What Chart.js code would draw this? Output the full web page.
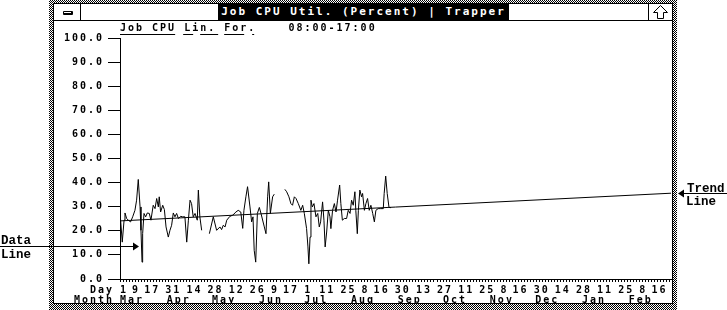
<!DOCTYPE html>
<html>
<head>
<meta charset="utf-8">
<title>Job CPU Util. (Percent) | Trapper</title>
<script src="https://cdn.jsdelivr.net/npm/chart.js@4.4.1/dist/chart.umd.min.js"></script>
<style>
  html, body { margin: 0; padding: 0; background: #fff; }
  body { width: 727px; height: 310px; position: relative; overflow: hidden; }
  /* window frame, Windows 3.x style */
  .hatch { position: absolute; left: 49px; top: 0; width: 628px; height: 320px;
    background: repeating-conic-gradient(#000 0 25%, #fff 0 50%) 0 0 / 2px 2px; }
  .win { position: absolute; left: 53px; top: 3px; width: 618px; height: 299px;
    border: 1px solid #000; background: #fff; }
  .bar { position: absolute; left: 0; top: 0; width: 618px; height: 16px; border-bottom: 1px solid #000; }
  .menu { position: absolute; left: 0; top: 0; width: 26px; height: 16px; border-right: 1px solid #000; }
  .menu i { position: absolute; left: 9px; top: 7px; width: 10px; height: 4px; background: #000; border-radius: 1px; }
  .menu i::after { content: ''; position: absolute; left: 1px; top: 1px; width: 7px; height: 1px; background: #fff; }
  .caption { position: absolute; left: 164px; top: 0; width: 291px; height: 16px; background: #000; color: #fff;
    font: bold 11px "DejaVu Sans Mono", monospace; letter-spacing: 2px; line-height: 16px; text-align: center; white-space: nowrap; }
  .maxbox { position: absolute; left: 594px; top: 0; width: 23px; height: 16px; border-left: 1px solid #000; }
  canvas { position: absolute; left: 0; top: 0; }
</style>
</head>
<body>
<div class="hatch"></div>
<div class="win">
  <div class="bar">
    <div class="menu"><i></i></div>
    <div class="caption">Job CPU Util. (Percent) | Trapper</div>
    <div class="maxbox">
      <svg width="23" height="16" viewBox="0 0 23 16">
        <path d="M11.5 1.5 L18.5 8.5 L14.5 8.5 L14.5 14.5 L8.5 14.5 L8.5 8.5 L4.5 8.5 Z" fill="#fff" stroke="#000" stroke-width="1"/>
      </svg>
    </div>
  </div>
</div>
<canvas id="grafica" width="727" height="310"></canvas>
<script>
// Datos: días desde el 1 de marzo y utilización de CPU (%), null = hueco
const dataDays = [
  0, 1.5, 2.7, 3.3, 4.4, 5.5, 7.0, 8.4, 9.9, 11.0, 12.1, 13.3, 13.9, 14.6, 15.0, 15.9, 17.0, 18.1, 19.4, 20.5,
  22.0, 23.2, 24.3, 25.4, 26.0, 26.9, 28.3, 29.4, 30.5, 32.0, 33.1, 34.2, 35.3, 36.4, 37.5, 38.7, 40.2, 41.5, 43.0, 44.2,
  45.3, 46.4, 47.4, 48.5, 49.7, 51.2, 51.9, 52.9, 54.1,
  56.5,
  59.2, 61.8, 64.0, 66.2, 67.3, 68.4, 69.6, 70.7, 72.8, 74.7, 76.8, 78.3, 80.0, 81.3, 82.1, 83.4, 84.5, 86.1, 87.2, 88.1,
  88.9, 89.9, 91.0, 92.3, 93.4, 95.6, 96.7, 97.8, 98.5, 99.6, 101.1, 102.2,
  105.5,
  109.2, 110.4, 111.9, 113.2, 114.3, 115.5, 116.6, 118.1, 119.8, 121.0, 122.1, 123.6, 124.5, 125.1, 125.9, 126.5, 127.4, 128.5, 129.8, 131.0,
  132.0, 132.9, 134.2, 135.1, 135.9, 136.9, 138.0, 139.1, 139.7, 140.8, 142.0, 143.1, 144.1, 145.5, 146.3, 147.3, 148.6, 150.1, 151.2, 152.4,
  153.4, 154.5, 155.6, 156.2, 157.2, 157.9, 158.9, 160.0, 160.7, 161.9, 162.9, 164.0, 165.1, 166.2, 167.4, 168.5, 169.5, 171.0, 172.7, 174.4,
  175.0, 176.0, 177.0, 178.2, 179.5
];
const cpuValues = [
  27.8, 15.3, 24.4, 27.4, 25.1, 24.4, 23.7, 25.8, 28.5, 32.7, 41.3, 29.9, 20.2, 7.0, 18.8, 27.2, 25.8, 27.4, 27.2, 24.4,
  30.6, 29.2, 33.4, 29.9, 34.1, 27.8, 30.6, 28.8, 21.6, 17.4, 20.2, 22.3, 27.4, 25.8, 27.2, 25.1, 26.0, 25.8, 25.8, 15.3,
  24.4, 32.7, 31.3, 25.8, 27.2, 24.4, 36.9, 25.8, 20.2,
  null,
  18.8, 25.8, 20.2, 21.6, 20.5, 22.3, 21.6, 24.4, 26.0, 26.5, 27.8, 28.5, 27.8, 21.0, 28.5, 34.1, 38.3, 29.9, 23.7, 25.8,
  11.9, 7.0, 27.2, 29.7, 27.2, 21.6, 18.8, 34.1, 40.3, 27.2, 34.1, 35.2,
  null,
  37.2, 36.2, 34.1, 31.3, 30.6, 34.1, 33.4, 31.3, 28.5, 30.6, 27.2, 20.9, 13.3, 6.3, 17.4, 32.7, 29.9, 31.3, 25.8, 27.2,
  21.6, 23.7, 32.0, 24.4, 13.3, 19.5, 28.5, 25.8, 20.9, 28.5, 31.3, 27.8, 32.7, 39.0, 31.3, 24.4, 25.1, 25.1, 28.5, 27.2,
  32.7, 30.6, 36.2, 28.5, 18.8, 28.5, 36.9, 34.1, 35.5, 28.5, 31.3, 33.4, 28.5, 30.6, 27.2, 23.7, 28.5, 29.2, 29.2, 29.2,
  35.5, 42.7, 35.5, 29.7, 29.6
];

// Línea de tendencia (pronóstico lineal)
const trendDays = [0, 365];
const trendValues = [24.1, 35.6];

// Etiquetas del eje X
const dayTickDays = [0, 8, 16, 30, 44, 58, 72, 86, 100, 108, 122, 132, 146, 160, 168, 182, 196, 210, 224, 238, 252, 260, 274, 288, 302, 316, 330, 344, 352];
const dayTickLabels = ['1', '9', '17', '31', '14', '28', '12', '26', '9', '17', '1', '11', '25', '8', '16', '30', '13', '27', '11', '25', '8', '16', '30', '14', '28', '11', '25', '8', '16'];
const monthDays = [0, 31, 61, 92, 122, 153, 184, 214, 245, 275, 306, 337];
const monthLabels = ['Mar', 'Apr', 'May', 'Jun', 'Jul', 'Aug', 'Sep', 'Oct', 'Nov', 'Dec', 'Jan', 'Feb'];

// Flechas de anotación
const dataArrow = { day: 12.5, value: 13.5 };

const FONT = '"DejaVu Sans Mono", monospace';
const SPACING = '2px';
const subtitle = 'Job CPU Lin. For.    08:00-17:00';

// Dibujar leyenda, rótulos y flechas encima del gráfico
const decor = {
  id: 'decor',
  beforeLayout(chart) { chart.ctx.letterSpacing = SPACING; },
  beforeDraw(chart) { chart.ctx.letterSpacing = SPACING; },
  afterDraw(chart) {
    const ctx = chart.ctx;
    const area = chart.chartArea;
    const xs = chart.scales.x, ys = chart.scales.y, ms = chart.scales.month;
    ctx.save();
    ctx.fillStyle = '#000';
    ctx.strokeStyle = '#000';
    ctx.lineWidth = 1;
    ctx.font = 'bold 10px ' + FONT;
    ctx.letterSpacing = SPACING;
    ctx.textBaseline = 'middle';
    ctx.textAlign = 'left';

    // leyenda
    const lx = area.left;
    ctx.fillText(subtitle, lx, 28);
    const w1 = ctx.measureText('Job CPU').width - 1;
    ctx.beginPath(); ctx.moveTo(lx, 34.5); ctx.lineTo(lx + w1, 34.5); ctx.stroke();
    const w2 = ctx.measureText('Job CPU ').width;
    ctx.setLineDash([10, 7, 18, 6, 20, 8, 2, 300]);
    ctx.beginPath(); ctx.moveTo(lx + w2 - 1, 34.5); ctx.lineTo(lx + w2 + 75, 34.5); ctx.stroke();
    ctx.setLineDash([]);

    // rótulos Day / Month
    ctx.textAlign = 'right';
    ctx.fillText('Day', area.left - 6, xs.top + 11.6);
    ctx.fillText('Month', area.left - 6, ms.top + 6.6);

    // flecha "Data Line"
    ctx.letterSpacing = '0px';
    ctx.font = 'bold 12.5px "Liberation Mono", monospace';
    ctx.textAlign = 'left';
    ctx.textBaseline = 'alphabetic';
    const px = Math.round(xs.getPixelForValue(dataArrow.day));
    const py = Math.round(ys.getPixelForValue(dataArrow.value)) + 0.5;
    ctx.beginPath(); ctx.moveTo(0, py); ctx.lineTo(px - 4, py); ctx.stroke();
    ctx.beginPath(); ctx.moveTo(px, py); ctx.lineTo(px - 6, py - 4); ctx.lineTo(px - 6, py + 4); ctx.closePath(); ctx.fill();
    ctx.fillText('Data', 1, py - 3);
    ctx.fillText('Line', 1, py + 11);

    // flecha "Trend Line"
    const tx = area.right + 7;
    const ty = Math.round(ys.getPixelForValue(trendValues[trendValues.length - 1])) + 0.5;
    ctx.beginPath(); ctx.moveTo(tx + 4, ty); ctx.lineTo(chart.width, ty); ctx.stroke();
    ctx.beginPath(); ctx.moveTo(tx, ty); ctx.lineTo(tx + 6, ty - 4); ctx.lineTo(tx + 6, ty + 4); ctx.closePath(); ctx.fill();
    ctx.fillText('Trend', tx + 9, ty - 2);
    ctx.fillText('Line', tx + 8, ty + 11);
    ctx.restore();
  }
};

const tickFont = { family: FONT, size: 10, weight: 'bold' };

const ctxGrafica = document.getElementById('grafica').getContext('2d');
const grafica = new Chart(ctxGrafica, {
  type: 'line',
  data: {
    datasets: [{
      label: 'Job CPU',
      data: dataDays.map((d, i) => ({ x: d, y: cpuValues[i] })),
      borderColor: '#000',
      borderWidth: 1,
      pointRadius: 0,
      tension: 0,
      spanGaps: false
    }, {
      label: 'Lin. For.',
      data: trendDays.map((d, i) => ({ x: d, y: trendValues[i] })),
      borderColor: '#000',
      borderWidth: 1,
      pointRadius: 0,
      tension: 0
    }]
  },
  options: {
    responsive: false,
    animation: false,
    devicePixelRatio: 1,
    layout: { padding: { left: 0, right: 56, top: 38, bottom: 6 } },
    plugins: { legend: { display: false }, tooltip: { enabled: false } },
    scales: {
      x: {
        type: 'linear', position: 'bottom', min: 0, max: 365, weight: 0,
        border: { display: true, color: '#000', width: 1 },
        grid: { display: true, drawOnChartArea: false, drawTicks: true, tickLength: 3, color: '#000', lineWidth: 1 },
        afterBuildTicks: s => {
          const t = [];
          for (let d = 0; d <= 364; d += 2) t.push({ value: d });
          s.ticks = t;
        },
        ticks: {
          autoSkip: false, maxRotation: 0, minRotation: 0, align: 'start', padding: 2,
          color: '#000', font: tickFont,
          callback: v => {
            const i = dayTickDays.indexOf(v);
            return i < 0 ? '' : dayTickLabels[i];
          }
        },
        afterFit: s => { s.height = 15; }
      },
      month: {
        type: 'linear', position: 'bottom', min: 0, max: 365, weight: 1,
        border: { display: false },
        grid: { display: false, drawTicks: false },
        afterBuildTicks: s => { s.ticks = monthDays.map(v => ({ value: v })); },
        ticks: {
          autoSkip: false, maxRotation: 0, minRotation: 0, align: 'start', padding: 0,
          color: '#000', font: tickFont,
          callback: v => monthLabels[monthDays.indexOf(v)]
        },
        afterFit: s => { s.height = 10; }
      },
      y: {
        min: 0, max: 100,
        border: { display: true, color: '#000', width: 1 },
        grid: { drawOnChartArea: false, drawTicks: true, tickLength: 12, color: '#000', lineWidth: 1 },
        ticks: { stepSize: 10, padding: 4, color: '#000', font: tickFont, callback: v => v.toFixed(1) },
        afterFit: s => { s.width = 120; }
      }
    }
  },
  plugins: [decor]
});
</script>
</body>
</html>
